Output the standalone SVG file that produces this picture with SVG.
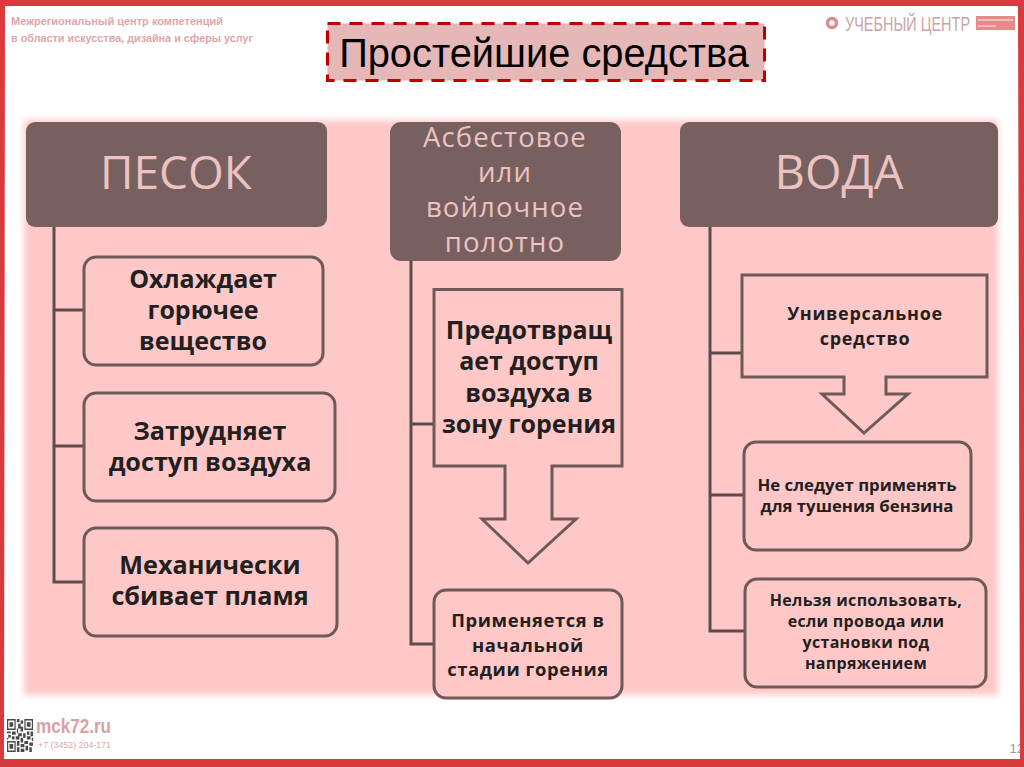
<svg xmlns="http://www.w3.org/2000/svg" width="1024" height="767" viewBox="0 0 1024 767">
<style>
text{font-family:"Open Sans","Noto Sans","DejaVu Sans",sans-serif;text-anchor:middle}
.h{fill:#77605f}
.ht{fill:#ecc3c1}
.b{fill:#fec8c8;stroke:#6f5a59;stroke-width:3}
.t{fill:#231f1f;font-weight:700}
.c{fill:none;stroke:#5e4c4b;stroke-width:3}
.logo{font-family:"Liberation Sans",sans-serif;font-weight:700;text-anchor:start;fill:#dfa6a9}
.s{font-family:"Liberation Sans",sans-serif;text-anchor:start}
</style>
<defs>
<filter id="blur" x="-5%" y="-5%" width="110%" height="110%"><feGaussianBlur stdDeviation="3"/></filter>
<filter id="soft" x="-10%" y="-10%" width="120%" height="120%"><feGaussianBlur stdDeviation="0.5"/></filter>
</defs>
<rect x="0" y="0" width="1024" height="767" fill="#ffffff"/>
<rect x="24" y="120" width="974" height="575" fill="#fec8c8" filter="url(#blur)"/>
<g id="header">
<text class="logo" x="11" y="25" font-size="11.500" textLength="212" lengthAdjust="spacingAndGlyphs">Межрегиональный центр компетенций</text>
<text class="logo" x="11" y="42" font-size="11.500" textLength="242" lengthAdjust="spacingAndGlyphs">в области искусства, дизайна и сферы услуг</text>
<circle cx="832" cy="23" r="4.500" fill="none" stroke="#d98d8f" stroke-width="3.500"/>
<text class="s" transform="translate(845 31) scale(.69 1)" font-size="21" fill="#c9a5a5">УЧЕБНЫЙ ЦЕНТР</text>
<rect x="976" y="16" width="39" height="14" fill="#e58a8b"/>
<path d="M978 20H1013M978 26H996" stroke="#f6d0d0" stroke-width="1.500" fill="none"/>
</g>
<g id="title">
<rect x="327.500" y="23.500" width="437" height="57" fill="#e5b8b7" stroke="#c00000" stroke-width="3" stroke-dasharray="13 9"/>
<text x="544" y="67" font-size="39.800" fill="#000" style="font-family:'Liberation Sans',sans-serif">Простейшие средства</text>
</g>
<g id="connectors">
<path class="c" d="M54 226V582H84M54 310H84M54 446H84"/>
<path class="c" d="M411 260V644H434M411 424H434"/>
<path class="c" d="M710 226V631H745M710 353H742M710 495H744"/>
</g>
<g id="n1"><rect class="h" x="26" y="122" width="301" height="105" rx="9"/><text class="ht" x="176" y="189" font-size="46">ПЕСОК</text></g>
<g id="n2"><rect class="h" x="390" y="122" width="231" height="139" rx="11"/>
<text class="ht" font-size="27.500" letter-spacing="1.100"><tspan x="505" y="147">Асбестовое</tspan><tspan x="505" y="182">или</tspan><tspan x="505" y="217">войлочное</tspan><tspan x="505" y="252">полотно</tspan></text></g>
<g id="n3"><rect class="h" x="680" y="122" width="318" height="105" rx="9"/><text class="ht" x="839" y="189" font-size="47">ВОДА</text></g>
<g id="n4"><rect class="b" x="84" y="257" width="239" height="108" rx="12"/><text class="t" font-size="25"><tspan x="203" y="288">Охлаждает</tspan><tspan x="203" y="319">горючее</tspan><tspan x="203" y="350">вещество</tspan></text></g>
<g id="n5"><rect class="b" x="84" y="393" width="251" height="108" rx="12"/><text class="t" font-size="25.200"><tspan x="210" y="440">Затрудняет</tspan><tspan x="210" y="471">доступ воздуха</tspan></text></g>
<g id="n6"><rect class="b" x="84" y="528" width="253" height="108" rx="12"/><text class="t" font-size="25.200"><tspan x="210" y="574">Механически</tspan><tspan x="210" y="605">сбивает пламя</tspan></text></g>
<g id="n7"><path class="b" d="M434 289.500H622V466H552V519H576L528 563L482 519H505V466H434Z"/><text class="t" font-size="25"><tspan x="529" y="339">Предотвращ</tspan><tspan x="529" y="370">ает доступ</tspan><tspan x="529" y="402">воздуха в</tspan><tspan x="529" y="433">зону горения</tspan></text></g>
<g id="n8"><rect class="b" x="434" y="590" width="188" height="108" rx="12"/><text class="t" font-size="18.400" letter-spacing=".6"><tspan x="528" y="627">Применяется в</tspan><tspan x="528" y="651.500">начальной</tspan><tspan x="528" y="676">стадии горения</tspan></text></g>
<g id="n9"><path class="b" d="M742 275H987V377H886V394H908L864 433L822 394H844V377H742Z"/><text class="t" font-size="18" letter-spacing=".7"><tspan x="865" y="320">Универсальное</tspan><tspan x="865" y="344.500">средство</tspan></text></g>
<g id="n10"><rect class="b" x="744" y="442" width="227" height="108" rx="12"/><text class="t" font-size="16.800"><tspan x="857" y="491">Не следует применять</tspan><tspan x="857" y="512">для тушения бензина</tspan></text></g>
<g id="n11"><rect class="b" x="745" y="579" width="241" height="108" rx="12"/><text class="t" font-size="16" letter-spacing=".3"><tspan x="866" y="606">Нельзя использовать,</tspan><tspan x="866" y="627">если провода или</tspan><tspan x="866" y="648">установки под</tspan><tspan x="866" y="669">напряжением</tspan></text></g>
<g id="footer">
<g filter="url(#soft)"><path transform="translate(7 719) scale(1.24 1.57)" fill="#4a4a4a" fill-rule="evenodd" d="M0 0H7V7H0ZM1 1V6H6V1ZM2 2H5V5H2ZM14 0H21V7H14ZM15 1V6H20V1ZM16 2H19V5H16ZM0 14H7V21H0ZM1 15V20H6V15ZM2 16H5V19H2ZM8 0H10V2H8ZM11 1H13V3H11ZM9 3H11V6H9ZM8 6H9V9H8ZM11 5H13V8H11ZM0 8H3V9H0ZM4 8H7V10H4ZM1 10H3V12H1ZM0 12H1V13H0ZM4 11H6V13H4ZM9 9H12V11H9ZM7 11H10V13H7ZM13 9H15V12H13ZM16 8H18V10H16ZM19 8H21V11H19ZM16 11H19V13H16ZM20 12H21V14H20ZM11 12H13V15H11ZM8 14H10V17H8ZM14 14H17V16H14ZM18 15H21V17H18ZM11 16H14V18H11ZM15 17H17V20H15ZM8 18H10V21H8ZM11 19H14V21H11ZM18 18H20V21H18Z"/></g>
<text class="s" x="36" y="733" font-size="20" textLength="75" lengthAdjust="spacingAndGlyphs" font-weight="700" fill="#d9a0a3">mck72.ru</text>
<text class="s" x="38" y="748" font-size="9" textLength="73" lengthAdjust="spacingAndGlyphs" fill="#d9a8aa">+7 (3452) 204-171</text>
<text class="s" x="1009.500" y="753" font-size="13" fill="#9a9a9a">12</text>
</g>
<path id="frame" fill="#d93a3e" fill-rule="evenodd" d="M0 0H1024V767H0ZM5 6L4 759H1020L1018 6Z"/>
</svg>
